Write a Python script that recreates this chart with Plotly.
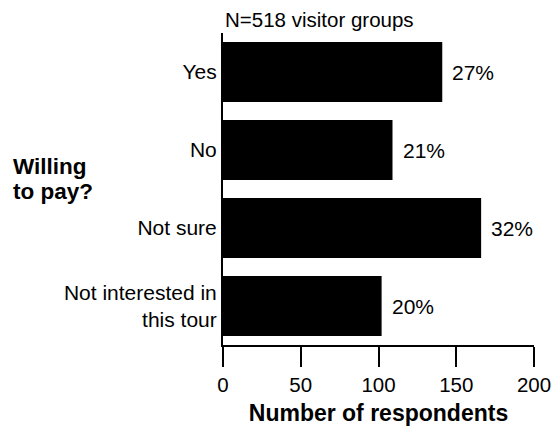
import plotly.graph_objects as go

categories = ["Yes", "No", "Not sure", "Not interested in<br>this tour"]
respondents = [141, 109, 166, 102]
percent_labels = ["27%", "21%", "32%", "20%"]
x_ticks = [0, 50, 100, 150, 200]
sample_note = "N=518 visitor groups"

FONT = "Liberation Sans, Arial, sans-serif"

W, H = 556, 431
L, R, T, B = 223, 22, 33, 86
plot_h = H - T - B
plot_w = W - L - R


def px_to_paper(xp, yp):
    return (xp - L) / plot_w, (H - B - yp) / plot_h


fig = go.Figure()
fig.add_trace(go.Bar(
    x=respondents, y=categories, orientation="h",
    marker=dict(color="black", line=dict(width=0)),
    width=0.77, hoverinfo="skip",
))

for v, c, p in zip(respondents, categories, percent_labels):
    fig.add_annotation(x=v, y=c, xref="x", yref="y", text=p, showarrow=False,
                       xanchor="left", yanchor="middle", xshift=8,
                       font=dict(family=FONT, size=21, color="black"))

fig.add_annotation(x=0, y=1, xref="paper", yref="paper", text=sample_note,
                   showarrow=False, xanchor="left", yanchor="bottom", yshift=0,
                   font=dict(family=FONT, size=20.5, color="black"))

for txt, ypix in [("<b>Willing</b>", 166), ("<b>to pay?</b>", 191)]:
    xx, yy = px_to_paper(11, ypix)
    fig.add_annotation(x=xx, y=yy, xref="paper", yref="paper", text=txt,
                       showarrow=False, xanchor="left", yanchor="middle",
                       font=dict(family=FONT, size=22.5, color="black"))

fig.update_layout(
    width=W, height=H,
    margin=dict(l=L, r=R, t=T, b=B, autoexpand=False),
    paper_bgcolor="white", plot_bgcolor="white",
    showlegend=False,
    font=dict(family=FONT, size=21, color="black"),
    xaxis=dict(range=[0, 200], tickvals=x_ticks, showline=True, linecolor="black",
               linewidth=2, ticks="outside", ticklen=20, tickwidth=2, tickcolor="black",
               showgrid=False, zeroline=False, fixedrange=True, automargin=False,
               tickfont=dict(family=FONT, size=20.5),
               title=dict(text="<b>Number of respondents</b>", font=dict(family=FONT, size=23),
                          standoff=10)),
    yaxis=dict(range=[3.5, -0.5], showline=True, linecolor="black", linewidth=2,
               ticks="", showgrid=False, zeroline=False, fixedrange=True, automargin=False,
               tickfont=dict(family=FONT, size=21), ticklabelstandoff=0),
)

fig.write_html(
    "out.html",
    config={"displayModeBar": False},
    post_script="document.body.style.margin='0';document.body.style.overflow='hidden';",
)
